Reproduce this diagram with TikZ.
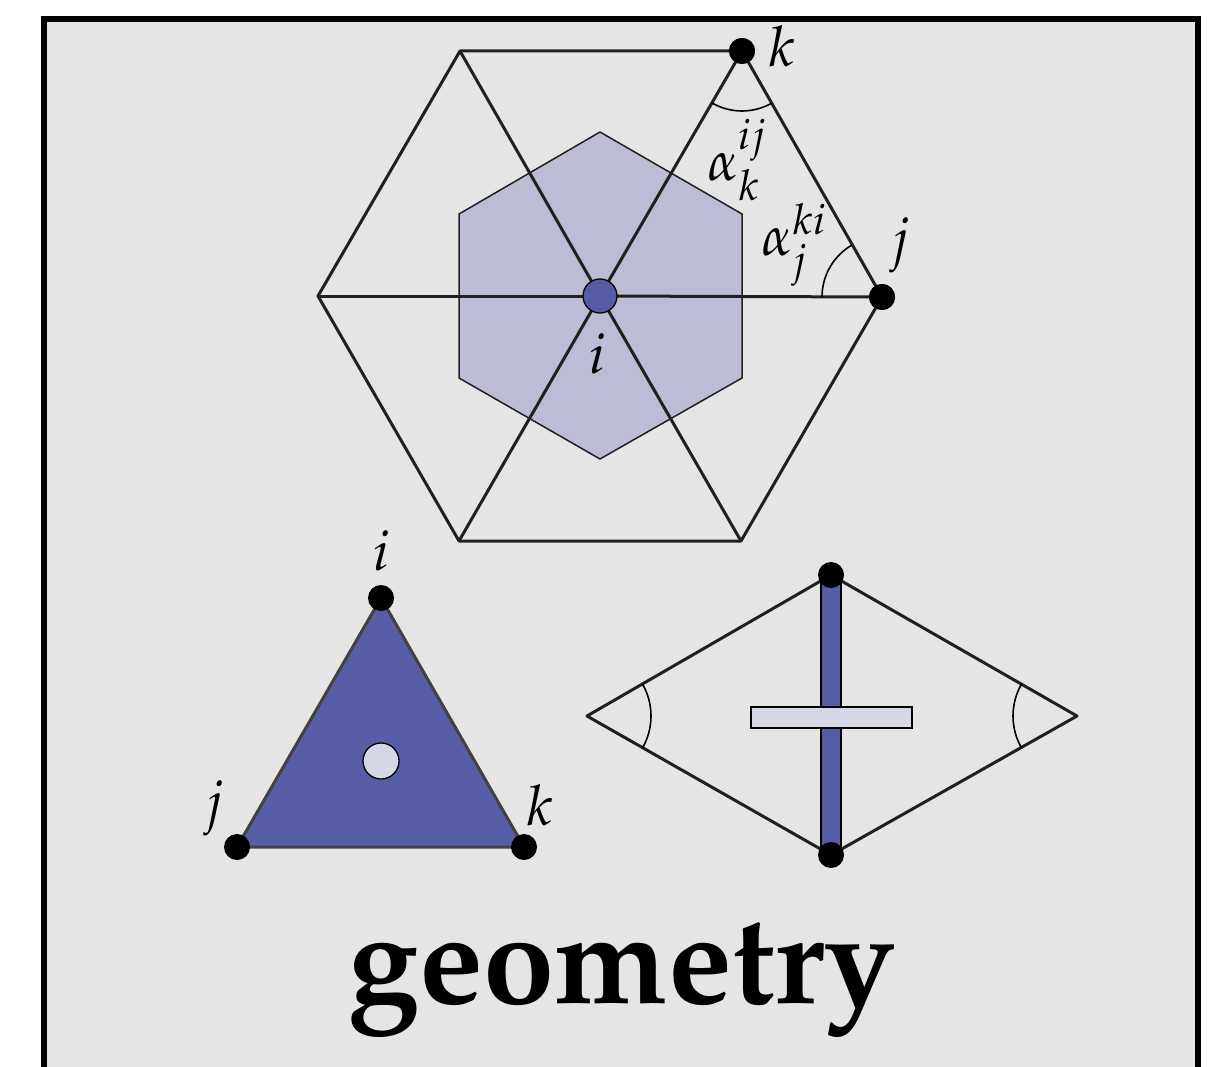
\documentclass[tikz,border=0pt]{standalone}
\usepackage[T1]{fontenc}
\usepackage{mathpazo}
\definecolor{bgc}{HTML}{E5E5E5}
\definecolor{hexc}{HTML}{BCBDD4}
\definecolor{bluec}{HTML}{575CA6}
\definecolor{lightc}{HTML}{D5D7E5}
\definecolor{linec}{HTML}{231F20}
\tikzset{
  edge/.style={draw=linec, line width=3pt, line join=round},
  dotnode/.style={circle, fill=black, inner sep=0pt, minimum size=26pt},
  lbl/.style={inner sep=0pt, font=\fontsize{56}{60}\selectfont},
  anglearc/.style={draw=black, line width=1.6pt},
  thinbox/.style={draw=black, line width=1.5pt},
}
\begin{document}
\begin{tikzpicture}[x=1pt,y=1pt]
\useasboundingbox (0,0) rectangle (1209,-1067);
\clip (0,0) rectangle (1209,-1067);
% frame
\path[fill=bgc, draw=black, line width=6pt] (44,-19) rectangle (1198,-1120);

% ---- big hexagon ----
\coordinate (C) at (600,-296);
\coordinate (TL) at (460,-51);
\coordinate (BR) at (741,-541);
\coordinate (BL) at (459,-541);
\coordinate (L) at (318,-296);
% inner shaded hexagon
\path[fill=hexc, draw=linec, line width=1.5pt]
  (600,-132) -- (742,-214) -- (742,-378) -- (600,-459) -- (459,-378) -- (459,-214) -- cycle;
\node[dotnode] (K) at (742,-51) {};
\node[dotnode] (J) at (882,-297) {};
% outer hexagon
\draw[edge] (TL) -- (K.center) -- (J.center) -- (BR) -- (BL) -- (L) -- cycle;
% spokes
\draw[edge] (C) -- (TL);
\draw[edge] (C) -- (K.center);
\draw[edge] (C) -- (J.center);
\draw[edge] (C) -- (BR);
\draw[edge] (C) -- (BL);
\draw[edge] (C) -- (L);
% angle arcs
\draw[anglearc] (K.center) ++(240:60pt) arc[start angle=240, end angle=300, radius=60pt];
\draw[anglearc] (J.center) ++(120:60pt) arc[start angle=120, end angle=180, radius=60pt];
% redraw dots on top
\node[dotnode] at (K.center) {};
\node[dotnode] at (J.center) {};
\node[circle, fill=bluec, draw=black, line width=1.3pt, inner sep=0pt, minimum size=34pt] (I) at (C) {};
% labels
\node[lbl] (lk) at (782,-46) {$k$};
\node[lbl] (lj) at (900,-245) {$j$};
\node[lbl] (li) at (598,-354) {$i$};
\node[lbl] (la1) at (737,-160) {$\alpha_k^{ij}$};
\node[lbl] (la2) at (794,-245) {$\alpha_j^{ki}$};

% ---- triangle ----
\coordinate (Ti) at (381,-598);
\coordinate (Tj) at (237,-847);
\coordinate (Tk) at (524,-847);
\path[fill=bluec, draw=linec!85!white, line width=3pt, line join=round] (Ti) -- (Tj) -- (Tk) -- cycle;
\node[circle, fill=lightc, draw=black, line width=1.3pt, inner sep=0pt, minimum size=36pt] (TC) at (381,-761) {};
\node[dotnode] (TiD) at (Ti) {};
\node[dotnode] (TjD) at (Tj) {};
\node[dotnode] (TkD) at (Tk) {};
\node[lbl] (tli) at (382,-551) {$i$};
\node[lbl] (tlj) at (214,-808) {$j$};
\node[lbl] (tlk) at (540,-805) {$k$};

% ---- rhombus ----
\coordinate (RL) at (587,-716);
\coordinate (RT) at (831,-575);
\coordinate (RR) at (1077,-716);
\coordinate (RB) at (831,-855);
\draw[edge] (RL) -- (RT) -- (RR) -- (RB) -- cycle;
\draw[anglearc] (RL) ++(-30:64pt) arc[start angle=-30, end angle=30, radius=64pt];
\draw[anglearc] (RR) ++(150:64pt) arc[start angle=150, end angle=210, radius=64pt];
\path[fill=bluec, thinbox] (821,-575) rectangle (841,-855);
\path[fill=lightc, thinbox] (751,-707) rectangle (912,-728);
\node[dotnode] (RTD) at (RT) {};
\node[dotnode] (RBD) at (RB) {};

% ---- title ----
\node[inner sep=0pt, anchor=base, font=\fontsize{128}{136}\selectfont\bfseries] (title) at (622,-1003) {geometry};
\end{tikzpicture}
\end{document}
